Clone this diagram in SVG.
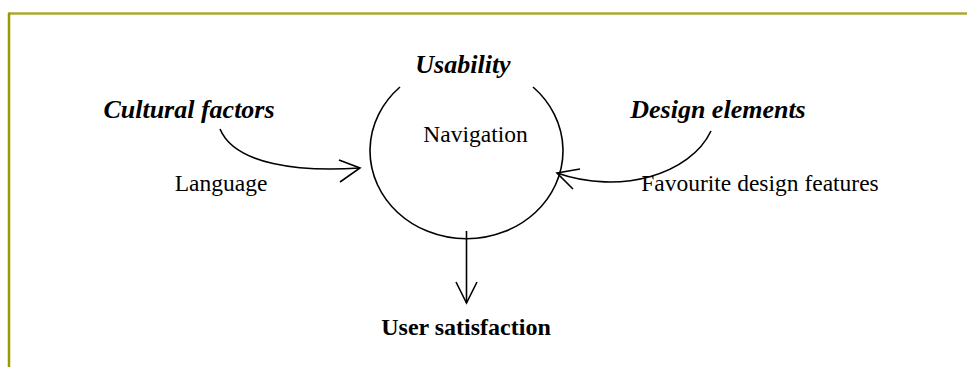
<svg xmlns="http://www.w3.org/2000/svg" width="967" height="367" viewBox="0 0 967 367">
  <style>
    .frame-top { stroke: #a9a935; stroke-width: 2.5; fill: none; }
    .frame-left { stroke: #999900; stroke-width: 2.5; fill: none; }
    .head { font-family: "Liberation Serif", "Times New Roman", serif; font-weight: bold; font-style: italic; font-size: 26px; fill: #000; }
    .label { font-family: "Liberation Serif", "Times New Roman", serif; font-size: 23.5px; fill: #000; }
    .result { font-family: "Liberation Serif", "Times New Roman", serif; font-weight: bold; font-size: 24px; fill: #000; }
    .line { stroke: #000; stroke-width: 1.6; fill: none; }
  </style>

  <!-- page frame -->
  <line class="frame-top" x1="8" y1="13.5" x2="967" y2="13.5"/>
  <line class="frame-left" x1="9" y1="13" x2="9" y2="367"/>

  <!-- central usability loop -->
  <g id="usability">
    <path class="line" d="M400,87 A96.5,88 0 1 0 533,87"/>
    <text class="head" x="463" y="73" text-anchor="middle">Usability</text>
    <text class="label" x="475.5" y="142" text-anchor="middle">Navigation</text>
  </g>

  <g id="cultural-factors">
    <text class="head" x="189" y="118" text-anchor="middle">Cultural factors</text>
    <text class="label" x="221" y="191" text-anchor="middle">Language</text>
  </g>

  <g id="design-elements">
    <text class="head" x="718" y="118" text-anchor="middle">Design elements</text>
    <text class="label" x="760" y="191" text-anchor="middle">Favourite design features</text>
  </g>

  <g id="user-satisfaction">
    <text class="result" x="466" y="335" text-anchor="middle">User satisfaction</text>
  </g>

  <g id="connectors">
    <!-- cultural factors into the loop -->
    <path class="line" d="M220,129 C235,165 300,172 360,168"/>
    <path class="line" d="M339,160 L360,168 L340,182"/>
    <!-- design elements into the loop -->
    <path class="line" d="M711,131 C690,175 620,195 557,173"/>
    <path class="line" d="M580,169 L557,173 L573,189"/>
    <!-- loop down to user satisfaction -->
    <path class="line" d="M466.5,231 L466.5,303"/>
    <path class="line" d="M456,282 L466.5,303 L477,282"/>
  </g>
</svg>
